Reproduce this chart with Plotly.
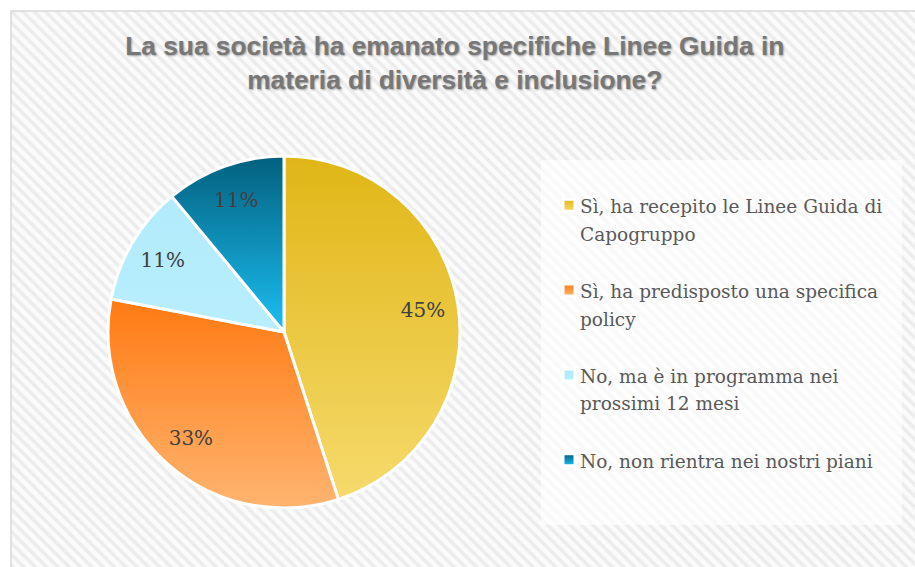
import json
import textwrap
import plotly.graph_objects as go

# ---------------- data ----------------
title_lines = ["La sua società ha emanato specifiche Linee Guida in",
               "materia di diversità e inclusione?"]
categories = ["Sì, ha recepito le Linee Guida di Capogruppo",
              "Sì, ha predisposto una specifica policy",
              "No, ma è in programma nei prossimi 12 mesi",
              "No, non rientra nei nostri piani"]
values = [45, 33, 11, 11]

# ---------------- styles ----------------
base_colors = ["#eac840", "#ff9442", "#b4ecfc", "#0f8fbf"]
grad_top = ["#e0b616", "#ff7a12", "#b2ebfc", "#03607e"]
grad_bottom = ["#f6da6c", "#ffb470", "#b8eefd", "#1bbff3"]

W, H = 915, 567


def legend_label(text, last):
    lines = textwrap.wrap(text, 33)
    s = "<br>".join("<span style='font-size:18.5px'>%s</span>" % l for l in lines)
    if not last:
        s += "<br> "
    return s


legend_labels = [legend_label(c, i == len(categories) - 1) for i, c in enumerate(categories)]

fig = go.Figure()

# hatched background
fig.add_trace(go.Scatter(
    x=[0, 1, 1, 0, 0], y=[0, 0, 1, 1, 0], fill="toself", mode="none",
    fillcolor="#fbfbfb",
    fillpattern=dict(shape="\\", size=8, solidity=0.45, fgcolor="#dedede", bgcolor="#fbfbfb"),
    hoverinfo="skip", showlegend=False,
))

cx, cy, r = 284, 332, 176
pie_domain = dict(x=[(cx - r) / W, (cx + r) / W], y=[1 - (cy + r) / H, 1 - (cy - r) / H])

# visible pie (slices + legend)
fig.add_trace(go.Pie(
    labels=legend_labels,
    values=values,
    sort=False,
    direction="clockwise",
    rotation=0,
    marker=dict(colors=base_colors, line=dict(color="white", width=3)),
    textinfo="none",
    hoverinfo="label+percent",
    domain=pie_domain,
))

# same data, transparent ring: carries the percentage labels at ~0.8 R
fig.add_trace(go.Pie(
    labels=legend_labels,
    values=values,
    sort=False,
    direction="clockwise",
    rotation=0,
    hole=0.6,
    marker=dict(colors=["rgba(0,0,0,0)"] * len(values), line=dict(width=0)),
    texttemplate="%{percent:.0%}",
    textposition="inside",
    insidetextorientation="horizontal",
    insidetextfont=dict(family="DejaVu Serif", size=20, color="#404040"),
    hoverinfo="skip",
    showlegend=False,
    domain=pie_domain,
))

fig.update_layout(
    width=W, height=H,
    margin=dict(l=0, r=0, t=0, b=0),
    paper_bgcolor="white",
    plot_bgcolor="rgba(0,0,0,0)",
    xaxis=dict(visible=False, range=[0, 1], domain=[11 / W, 1], fixedrange=True),
    yaxis=dict(visible=False, range=[0, 1], domain=[0, 1 - 11 / H], fixedrange=True),
    title=dict(
        text="<br>".join(title_lines),
        x=0.497, xanchor="center", xref="paper",
        y=1 - 55 / H, yanchor="top", yref="container",
        font=dict(family="Liberation Sans", size=26.3, color="#777777", weight="bold",
                  shadow="1px 1px 2px rgba(0,0,0,0.35)"),
    ),
    legend=dict(
        x=540 / W, xanchor="left", y=1 - 185 / H, yanchor="top",
        valign="top",
        font=dict(family="DejaVu Serif", size=21, color="#595959"),
        bgcolor="rgba(0,0,0,0)", borderwidth=0,
    ),
    shapes=[
        dict(type="rect", xref="paper", yref="paper",
             x0=541 / W, x1=902 / W, y0=1 - 525 / H, y1=1 - 160 / H,
             fillcolor="rgba(255,255,255,0.65)", line=dict(width=0), layer="above"),
        dict(type="rect", xref="paper", yref="paper",
             x0=11 / W, x1=1.05, y0=-0.05, y1=1 - 11 / H,
             fillcolor="rgba(0,0,0,0)", line=dict(color="#d9d9d9", width=1.5), layer="above"),
    ],
)

post = """
document.body.style.margin = '0';
var gd = document.getElementById('{plot_id}');
var tops = %s, bots = %s;
var ns = 'http://www.w3.org/2000/svg';
var svg = gd.querySelector('svg.main-svg');
var defs = svg.querySelector('defs');
if (!defs) { defs = document.createElementNS(ns, 'defs'); svg.insertBefore(defs, svg.firstChild); }
tops.forEach(function(t, i) {
  var lg = document.createElementNS(ns, 'linearGradient');
  lg.setAttribute('id', 'piegrad' + i);
  lg.setAttribute('x1', '0'); lg.setAttribute('y1', '0');
  lg.setAttribute('x2', '0'); lg.setAttribute('y2', '1');
  [[0, t], [1, bots[i]]].forEach(function(s) {
    var st = document.createElementNS(ns, 'stop');
    st.setAttribute('offset', s[0]);
    st.setAttribute('stop-color', s[1]);
    lg.appendChild(st);
  });
  defs.appendChild(lg);
});
var traces = gd.querySelectorAll('g.pielayer g.trace');
if (traces.length) {
  traces[0].querySelectorAll('g.slice path.surface').forEach(function(p, i) {
    p.style.fill = 'url(#piegrad' + i + ')';
  });
}
gd.querySelectorAll('path.legendpie').forEach(function(p, i) {
  p.style.fill = 'url(#piegrad' + i + ')';
  p.setAttribute('transform', 'translate(29,0)');
});
""" % (json.dumps(grad_top), json.dumps(grad_bottom))

fig.write_html("out.html", post_script=post, config={"displayModeBar": False})
